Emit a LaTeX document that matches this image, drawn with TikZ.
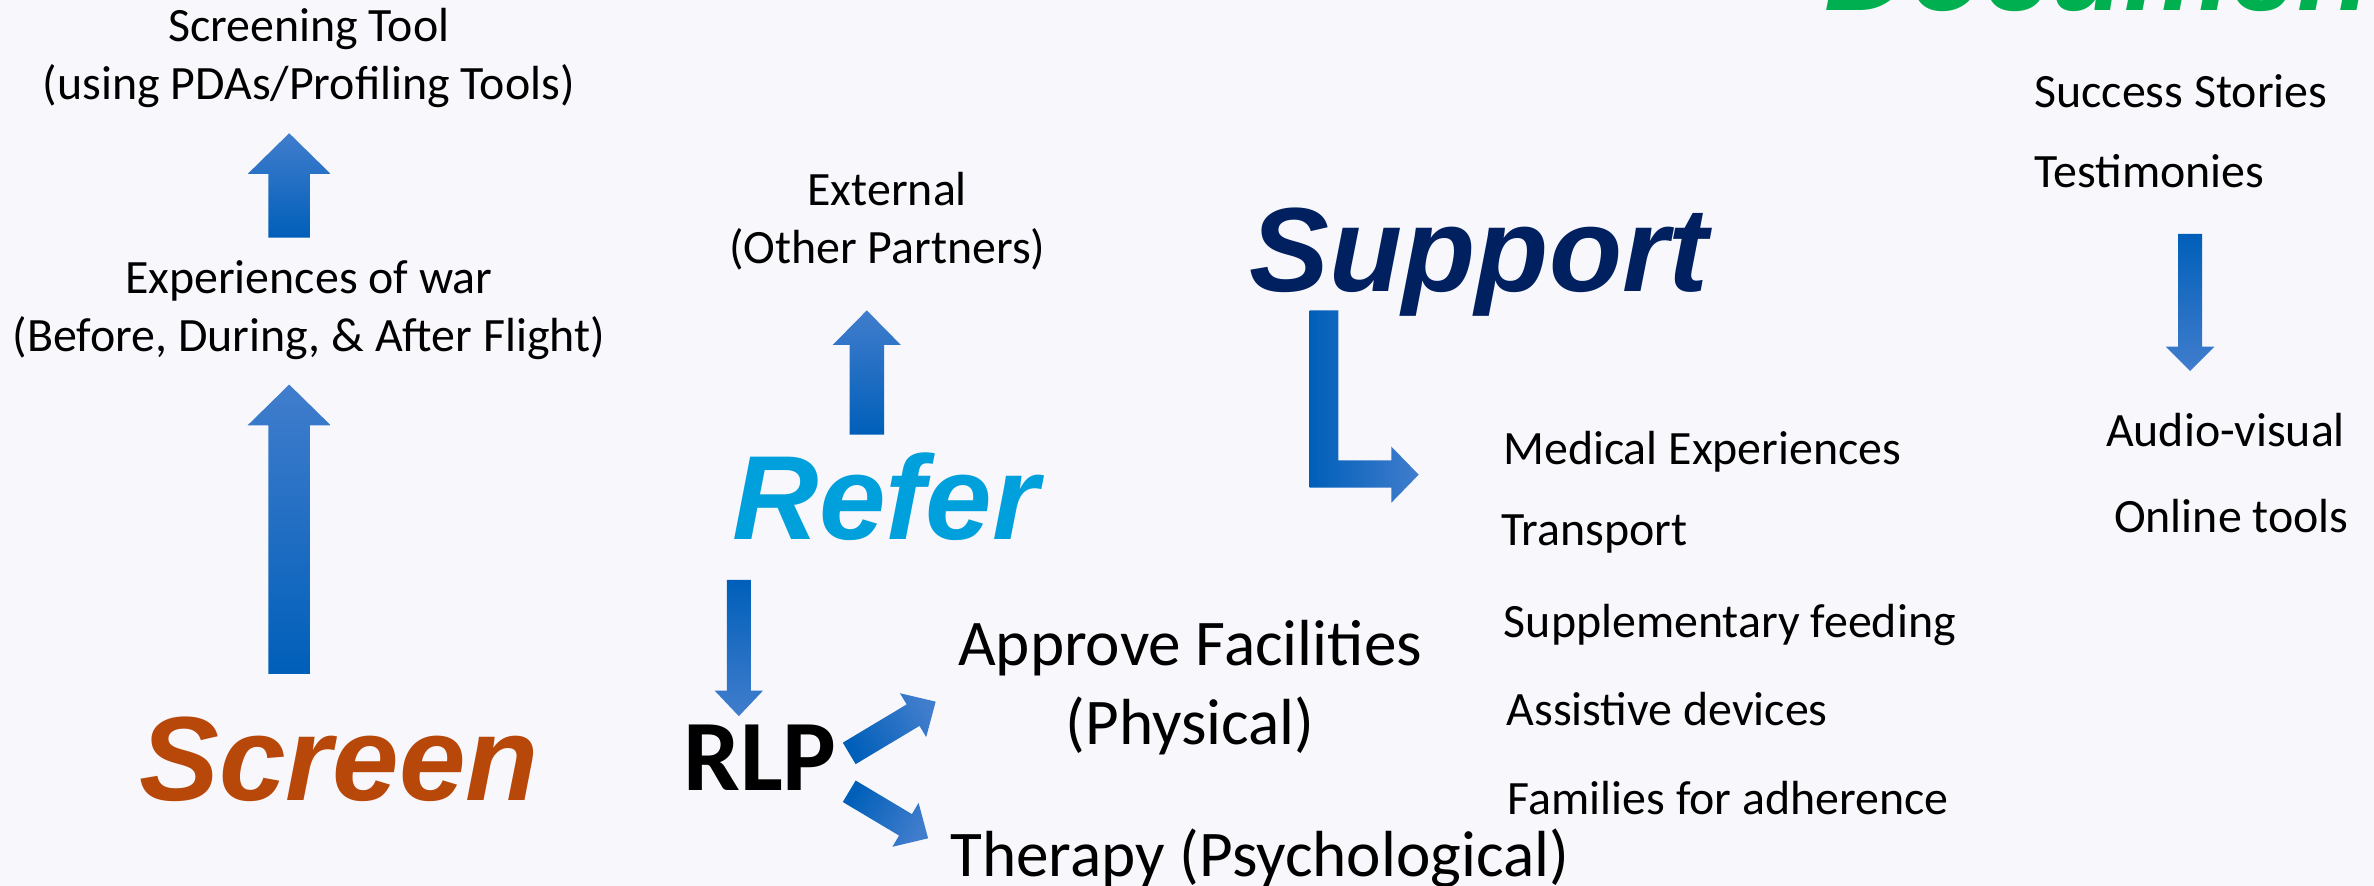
\documentclass[tikz,border=0pt]{standalone}
\usepackage{fontspec}
\setmainfont{Carlito}
\newfontfamily\titlefont{Liberation Sans}
\usetikzlibrary{calc}

\definecolor{bgcol}{RGB}{248,247,252}
\definecolor{screencol}{RGB}{184,72,10}
\definecolor{refercol}{RGB}{0,160,220}
\definecolor{supportcol}{RGB}{0,32,96}
\definecolor{doccol}{RGB}{0,176,80}
\definecolor{arrowtip}{RGB}{65,125,205}
\definecolor{arrowmid}{RGB}{5,110,205}
\definecolor{arrowtail}{RGB}{0,95,185}

% block arrow: #1 shading angle, #2 tail, #3 tip, #4 half shaft, #5 half head, #6 head length
\newcommand{\blockarrow}[6]{%
  \coordinate (ab) at ($(#3)!#6!(#2)$);
  \shade[top color=arrowtip,middle color=arrowmid,bottom color=arrowtail,shading angle=#1]
    ($(#2)!#4!90:(#3)$) -- ($(ab)!#4!90:(#3)$) -- ($(ab)!#5!90:(#3)$) -- (#3)
    -- ($(ab)!#5!-90:(#3)$) -- ($(ab)!#4!-90:(#3)$) -- ($(#2)!#4!-90:(#3)$) -- cycle;
}

\begin{document}
\begin{tikzpicture}[x=0.02cm,y=-0.02cm]
\tikzset{txt/.style = {inner sep=0pt, align=center, font=\fontsize{18}{21.9}\selectfont}}
\tikzset{bigtxt/.style = {inner sep=0pt, align=center, font=\fontsize{24.5}{30}\selectfont}}
\tikzset{heading/.style = {inner sep=0pt, text=#1, font=\titlefont\bfseries\itshape\fontsize{45}{54}\selectfont}}
% background
\fill[bgcol] (0,0) rectangle (1568,585);
\useasboundingbox (0,0) rectangle (1568,585);
\clip (0,0) rectangle (1568,585);
% screen
\node[txt,anchor=base] (tool) at (204,65.6) {Screening Tool\\(using PDAs/Profiling Tools)};
\node[txt,anchor=base] (war) at (204,232.3) {Experiences of war\\(Before, During, \& After Flight)};
\node[heading=screencol,anchor=base] (screen) at (224,528.7) {Screen};
% refer
\node[txt,anchor=base] (ext) at (586,174) {External\\(Other Partners)};
\node[heading=refercol,anchor=base] (refer) at (585,356) {Refer};
\node[inner sep=0pt,anchor=base,font=\bfseries\fontsize{38}{46}\selectfont] (rlp) at (502,522) {RLP};
\node[bigtxt,anchor=base] (approve) at (786,492) {Approve Facilities\\(Physical)};
\node[bigtxt,anchor=base] (therapy) at (832,579) {Therapy (Psychological)};
% support
\node[heading=supportcol,anchor=base] (support) at (977,192.6) {Support};
\node[txt,anchor=base west] (med) at (992.5,307) {Medical Experiences};
\node[txt,anchor=base west] (trans) at (991.3,360.6) {Transport};
\node[txt,anchor=base west] (feed) at (993,420.9) {Supplementary feeding};
\node[txt,anchor=base west] (assist) at (994.7,478.9) {Assistive devices};
\node[txt,anchor=base west] (fam) at (995.6,537.9) {Families for adherence};
% document
\node[heading=doccol,anchor=base west] (doc) at (1205,7) {Document};
\node[txt,anchor=base west] (succ) at (1343.4,70.8) {Success Stories};
\node[txt,anchor=base west] (testi) at (1343.4,123.8) {Testimonies};
\node[txt,anchor=base west] (audio) at (1390.7,294.9) {Audio-visual};
\node[txt,anchor=base west] (online) at (1396,351.5) {Online tools};
% arrow ends
\coordinate (u1) at (191,157);   \coordinate (u1h) at (191,88);
\coordinate (u2) at (191,445);   \coordinate (u2h) at (191,254);
\coordinate (u3) at (572.5,287); \coordinate (u3h) at (572.5,205);
\coordinate (d1) at (488,383);   \coordinate (d1h) at (488,473);
\coordinate (d2) at (1446.5,154.5); \coordinate (d2h) at (1446.5,245);
\coordinate (r1) at (560.9,497.6); \coordinate (r1h) at (618,463.4);
\coordinate (r2) at (560.9,522.6); \coordinate (r2h) at (613,553.7);
\coordinate (s1) at (865,205);
% arrows
\blockarrow{0}{u1}{u1h}{7.8pt}{15.6pt}{15.3pt}
\blockarrow{0}{u2}{u2h}{7.8pt}{15.6pt}{15.3pt}
\blockarrow{0}{u3}{u3h}{6.5pt}{12.8pt}{13pt}
\blockarrow{180}{d1}{d1h}{4.5pt}{9.1pt}{9.6pt}
\blockarrow{180}{d2}{d2h}{4.5pt}{9.1pt}{9.1pt}
\blockarrow{-59}{r1}{r1h}{4.7pt}{9.6pt}{9.9pt}
\blockarrow{-121}{r2}{r2h}{4.7pt}{9.6pt}{9.9pt}
\shade[top color=arrowtip,middle color=arrowmid,bottom color=arrowtail,shading angle=-90]
  (s1) -- ++(19,0) -- ++(0,99) -- ++(35,0) -- ++(0,-9) -- ++(18,18.5)
  -- ++(-18,18.5) -- ++(0,-10) -- ++(-54,0) -- cycle;
\end{tikzpicture}
\end{document}
